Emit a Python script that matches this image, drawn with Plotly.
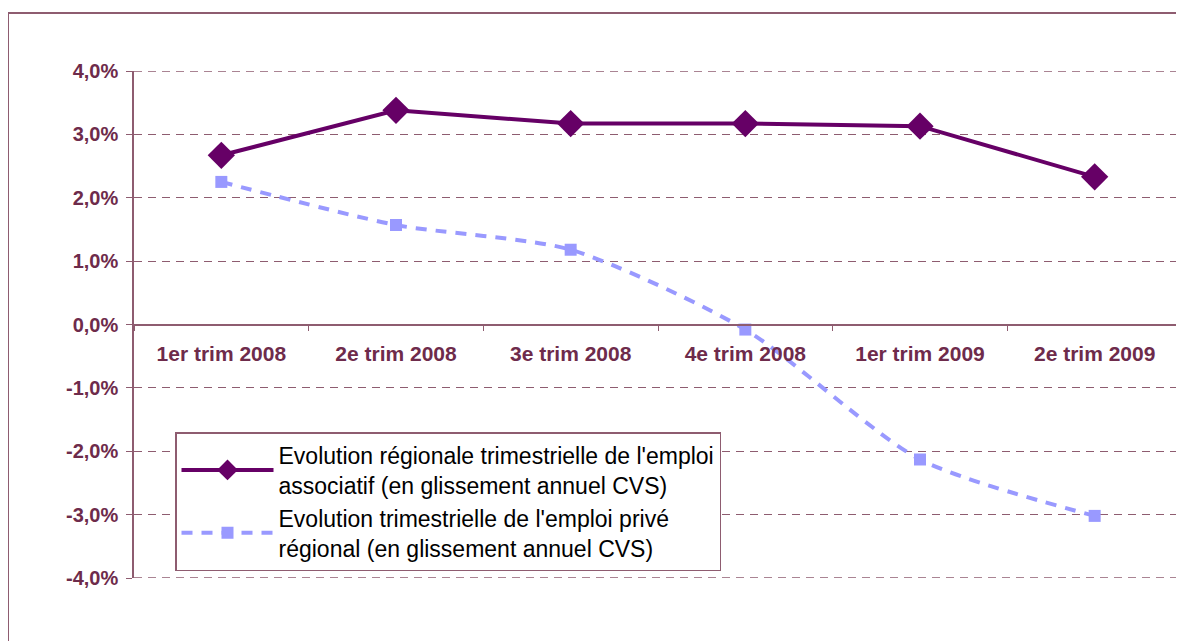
import plotly.graph_objects as go

categories = ["1er trim 2008", "2e trim 2008", "3e trim 2008", "4e trim 2008", "1er trim 2009", "2e trim 2009"]
associatif = [2.67, 3.38, 3.17, 3.17, 3.13, 2.33]
prive = [2.25, 1.57, 1.18, -0.08, -2.13, -3.02]
y_tickvals = [4, 3, 2, 1, 0, -1, -2, -3, -4]
y_ticktext = ["4,0%", "3,0%", "2,0%", "1,0%", "0,0%", "-1,0%", "-2,0%", "-3,0%", "-4,0%"]
name_assoc = "Evolution régionale trimestrielle de l'emploi<br>associatif (en glissement annuel CVS)"
name_prive = "Evolution trimestrielle de l'emploi privé<br>régional (en glissement annuel CVS)"

MAROON = "#6E2B4B"
GRID = "#8E5C70"

# page body has an 8px margin: compensate so the picture lines up
OFF = 8
W, H = 1184, 641
L = 134 - OFF
T = 71 - OFF
R = W - (1182 - OFF)
B = H - (578 - OFF)
PW = W - L - R
PH = H - T - B

fig = go.Figure()
fig.add_trace(go.Scatter(
    x=categories, y=associatif, name=name_assoc, mode="lines+markers",
    line=dict(color="#660066", width=4),
    marker=dict(symbol="diamond", size=21, color="#660066"),
    legendgroup="a",
))
fig.add_trace(go.Scatter(
    x=categories, y=prive, name=name_prive, mode="lines+markers",
    line=dict(color="#9999FF", width=4, dash="11px,9px", shape="spline", smoothing=0.7),
    marker=dict(symbol="square", size=12, color="#9999FF"),
    legendgroup="b",
))

# gridlines at the range ends (plotly hides those that sit on the plot edge)
edge_grid = [
    dict(type="line", xref="paper", yref="y", x0=0, x1=1, y0=v, y1=v,
         line=dict(color=GRID, width=1.3, dash="8px,6px"), layer="below")
    for v in (y_tickvals[0], y_tickvals[-1])
]

fig.update_layout(
    width=W, height=H,
    margin=dict(l=L, r=R, t=T, b=B),
    paper_bgcolor="white", plot_bgcolor="white",
    font=dict(family="Arial, Liberation Sans, sans-serif"),
    showlegend=True,
    legend=dict(
        x=(175 - OFF - L) / PW, y=1 - (432 - OFF - T) / PH, xanchor="left", yanchor="top",
        bgcolor="white", bordercolor=GRID, borderwidth=1.5,
        font=dict(size=23, color="black"),
        itemwidth=92, tracegroupgap=0,
    ),
    xaxis=dict(
        type="category", anchor="free", position=0.5,
        showgrid=False, showline=True, linecolor=GRID, linewidth=1.5,
        ticks="outside", tickson="boundaries", ticklen=6, tickcolor=GRID,
        tickfont=dict(size=21, color=MAROON, weight="bold"),
        ticklabelstandoff=11,
        range=[-0.5, 5.5], zeroline=False,
    ),
    yaxis=dict(
        range=[-4.0, 4.0], tickvals=y_tickvals, ticktext=y_ticktext,
        showgrid=True, gridcolor=GRID, griddash="8px,6px", gridwidth=1.2,
        showline=True, linecolor=GRID, linewidth=1.5,
        ticks="outside", ticklen=6, tickcolor=GRID,
        tickfont=dict(size=20, color=MAROON, weight="bold"),
        ticklabelstandoff=4,
        zeroline=False,
    ),
    shapes=[dict(type="rect", xref="paper", yref="paper",
                 x0=(8 - OFF - L) / PW, x1=1.2, y0=-0.5, y1=1 + (T - (13 - OFF)) / PH,
                 line=dict(color=GRID, width=2), layer="below")] + edge_grid,
)

fig.write_html("out.html")
